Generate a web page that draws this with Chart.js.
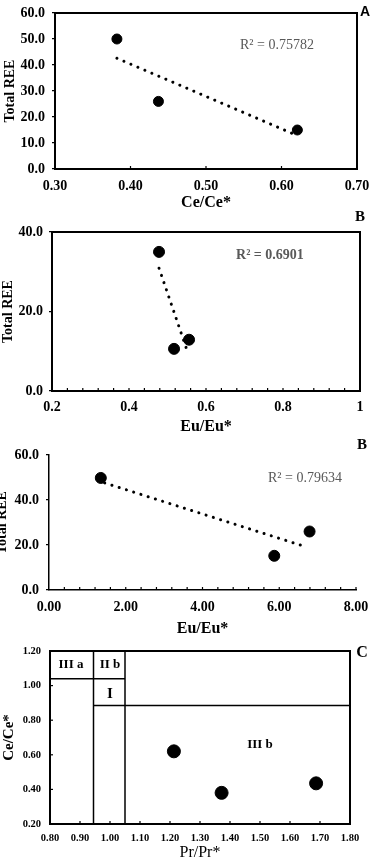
<!DOCTYPE html>
<html>
<head>
<meta charset="utf-8">
<script src="https://cdn.jsdelivr.net/npm/chart.js@4.4.1/dist/chart.umd.min.js"></script>
<style>
    body { margin: 0; background: #fff; width: 377px; height: 868px; overflow: hidden; position: relative; }
    canvas { position: absolute; left: 0; }
</style>
</head>
<body>
<canvas id="grafico-a" width="377" height="215" style="top:0px"></canvas>
<canvas id="grafico-b1" width="377" height="232" style="top:205px"></canvas>
<canvas id="grafico-b2" width="377" height="208" style="top:430px"></canvas>
<canvas id="grafico-c" width="377" height="238" style="top:630px"></canvas>
<script>
// ---- panel A : Total REE vs Ce/Ce*
const ceCeA = [0.382, 0.437, 0.621];
const totalReeA = [50.0, 26.0, 15.0];
const trendAx = [0.382, 0.614];
const trendAy = [42.6, 13.7];
const ticksAx = [0.30, 0.40, 0.50, 0.60, 0.70];
const ticksAy = [0, 10, 20, 30, 40, 50, 60];

// ---- panel B (upper) : Total REE vs Eu/Eu*
const euEuB1 = [0.478, 0.517, 0.556];
const totalReeB1 = [35.0, 10.6, 12.9];
const trendB1x = [0.478, 0.554];
const trendB1y = [30.9, 9.3];
const ticksB1x = [0.2, 0.4, 0.6, 0.8, 1.0];
const ticksB1y = [0, 20, 40];

// ---- panel B (lower) : Total REE vs Eu/Eu*
const euEuB2 = [1.35, 5.87, 6.79];
const totalReeB2 = [49.8, 15.2, 26.0];
const trendB2x = [1.45, 6.62];
const trendB2y = [47.6, 19.6];
const ticksB2x = [0, 2, 4, 6, 8];
const ticksB2y = [0, 20, 40, 60];

// ---- panel C : Ce/Ce* vs Pr/Pr*
const prPrC = [1.213, 1.372, 1.687];
const ceCeC = [0.62, 0.38, 0.435];
const ticksCx = [0.80, 0.90, 1.00, 1.10, 1.20, 1.30, 1.40, 1.50, 1.60, 1.70, 1.80];
const ticksCy = [0.20, 0.40, 0.60, 0.80, 1.00, 1.20];
// field boundaries: [x1, y1, x2, y2]
const camposLinhas = [
    [0.945, 0.20, 0.945, 1.20],
    [1.05, 0.20, 1.05, 1.20],
    [0.80, 1.04, 1.05, 1.04],
    [0.945, 0.885, 1.80, 0.885]
];
const camposNomes = ['III a', 'II b', 'I', 'III b'];
const camposX = [0.87, 1.0, 1.0, 1.50];
const camposY = [1.12, 1.12, 0.95, 0.66];

const SERIF = "'Liberation Serif', 'Times New Roman', serif";

const pluginDecor = {
    id: 'decor',
    afterDraw(chart, args, o) {
        const { ctx, chartArea: ca, scales: { x, y } } = chart;
        ctx.save();
        ctx.strokeStyle = '#000';
        ctx.lineWidth = 1.2;
        if (o.xStep) {
            const n = Math.round((x.max - x.min) / o.xStep);
            for (let i = 1; i <= n; i++) {
                const px = x.getPixelForValue(x.min + i * o.xStep);
                ctx.beginPath(); ctx.moveTo(px, ca.bottom); ctx.lineTo(px, ca.bottom - 3); ctx.stroke();
            }
        }
        if (o.yStep) {
            const n = Math.round((y.max - y.min) / o.yStep);
            for (let i = 1; i < n; i++) {
                const py = y.getPixelForValue(y.min + i * o.yStep);
                ctx.beginPath(); ctx.moveTo(ca.left, py); ctx.lineTo(ca.left + 3, py); ctx.stroke();
            }
        }
        if (o.box) {
            ctx.lineWidth = 2;
            ctx.strokeRect(ca.left, ca.top, ca.right - ca.left, ca.bottom - ca.top);
        }
        ctx.textAlign = 'center';
        ctx.textBaseline = 'middle';
        (o.textos || []).forEach(t => {
            ctx.font = t.font;
            ctx.fillStyle = t.color || '#000';
            const px = t.dx !== undefined ? ca.right + t.dx : x.getPixelForValue(t.x);
            const py = t.dy !== undefined ? ca.top + t.dy : y.getPixelForValue(t.y);
            ctx.fillText(t.text, px, py);
        });
        ctx.restore();
    }
};

function pontos(xs, ys) { return xs.map((v, i) => ({ x: v, y: ys[i] })); }

function eixoX(cfg) {
    return {
        type: 'linear', min: cfg.min, max: cfg.max,
        afterBuildTicks: s => { s.ticks = cfg.ticks.map(v => ({ value: v })); },
        afterFit: s => { s.height = cfg.height; s.paddingLeft = 0; s.paddingRight = 0; },
        ticks: { callback: cfg.fmt, color: '#000', padding: cfg.pad, maxRotation: 0, autoSkip: false,
                 font: { family: SERIF, size: cfg.size, weight: 'bold' } },
        grid: { display: true, drawOnChartArea: false, drawTicks: false, color: '#000' },
        border: { display: true, color: '#000', width: cfg.bw || 2 },
        title: { display: true, text: cfg.title, color: '#000', padding: { top: 0, bottom: cfg.tpad },
                 font: { family: SERIF, size: cfg.tsize, weight: cfg.tweight || 'bold' } }
    };
}

function eixoY(cfg) {
    return {
        type: 'linear', min: cfg.min, max: cfg.max,
        afterBuildTicks: s => { s.ticks = cfg.ticks.map(v => ({ value: v })); },
        afterFit: s => { s.width = cfg.width; s.paddingTop = 0; s.paddingBottom = 0; },
        ticks: { callback: cfg.fmt, color: '#000', padding: cfg.pad, autoSkip: false,
                 font: { family: SERIF, size: cfg.size, weight: 'bold' } },
        grid: { display: true, drawOnChartArea: false, drawTicks: cfg.outTicks, tickLength: 3, color: '#000', lineWidth: 1.2 },
        border: { display: true, color: '#000', width: cfg.bw || 2 },
        title: { display: true, text: cfg.title, color: '#000', padding: { top: cfg.tpad, bottom: 0 },
                 font: { family: SERIF, size: cfg.tsize, weight: 'bold' } }
    };
}

function opcoesBase(padding, scales, decor) {
    return {
        responsive: false, animation: false, events: [],
        layout: { padding: padding, autoPadding: false },
        plugins: { legend: { display: false }, tooltip: { enabled: false }, decor: decor },
        scales: scales
    };
}

const linhaTendencia = (xs, ys) => ({
    type: 'scatter', data: pontos(xs, ys), showLine: true, pointRadius: 0,
    borderColor: '#000', borderWidth: 3, borderDash: [0.1, 7.5], borderCapStyle: 'round', fill: false
});

// ----- A
new Chart(document.getElementById('grafico-a'), {
    type: 'scatter',
    data: { datasets: [
        linhaTendencia(trendAx, trendAy),
        { data: pontos(ceCeA, totalReeA), pointRadius: 5, backgroundColor: '#000', borderColor: '#000' }
    ] },
    options: opcoesBase({ left: 0, top: 13, right: 20, bottom: 0 }, {
        x: eixoX({ min: 0.3, max: 0.7, ticks: ticksAx, fmt: v => v.toFixed(2), height: 46, pad: 9, size: 14,
                   title: 'Ce/Ce*', tsize: 16, tpad: 3 }),
        y: eixoY({ min: 0, max: 60, ticks: ticksAy, fmt: v => v.toFixed(1), width: 55, pad: 7, size: 14,
                   outTicks: true, title: 'Total REE', tsize: 14, tpad: 1.6 })
    }, { box: true, xStep: 0.1, textos: [
        { text: 'R\u00B2 = 0.75782', x: 0.594, y: 47.7, font: `14px ${SERIF}`, color: '#595959' },
        { text: 'A', dx: 8, dy: -1, font: "bold 14px 'Liberation Sans', Arial, sans-serif" }
    ] }),
    plugins: [pluginDecor]
});

// ----- B (upper)
new Chart(document.getElementById('grafico-b1'), {
    type: 'scatter',
    data: { datasets: [
        linhaTendencia(trendB1x, trendB1y),
        { data: pontos(euEuB1, totalReeB1), pointRadius: 5.5, backgroundColor: '#000', borderColor: '#000' },
        { data: pontos(euEuB1, totalReeB1), pointRadius: 0.8, backgroundColor: '#ddd', borderWidth: 0 }
    ] },
    options: opcoesBase({ left: 0, top: 27, right: 17, bottom: 0 }, {
        x: eixoX({ min: 0.2, max: 1.0, ticks: ticksB1x, fmt: v => (v === 1 ? '1' : v.toFixed(1)), height: 46, pad: 8, size: 14,
                   title: 'Eu/Eu*', tsize: 16, tpad: 0.7 }),
        y: eixoY({ min: 0, max: 40, ticks: ticksB1y, fmt: v => v.toFixed(1), width: 52, pad: 6, size: 14,
                   outTicks: true, title: 'Total REE', tsize: 14, tpad: -0.4 })
    }, { box: true, xStep: 0.04, textos: [
        { text: 'R\u00B2 = 0.6901', x: 0.766, y: 34.0, font: `bold 14px ${SERIF}`, color: '#595959' },
        { text: 'B', dx: 0, dy: -15, font: `bold 15px ${SERIF}` }
    ] }),
    plugins: [pluginDecor]
});

// ----- B (lower)
new Chart(document.getElementById('grafico-b2'), {
    type: 'scatter',
    data: { datasets: [
        linhaTendencia(trendB2x, trendB2y),
        { data: pontos(euEuB2, totalReeB2), pointRadius: 5.5, backgroundColor: '#000', borderColor: '#000' },
        { data: pontos(euEuB2, totalReeB2), pointRadius: 0.8, backgroundColor: '#ddd', borderWidth: 0 }
    ] },
    options: opcoesBase({ left: 0, top: 25, right: 21, bottom: 0 }, {
        x: eixoX({ min: 0, max: 8, ticks: ticksB2x, fmt: v => v.toFixed(2), height: 48, pad: 9, size: 14,
                   title: 'Eu/Eu*', tsize: 16, tpad: 0, bw: 1.5 }),
        y: eixoY({ min: 0, max: 60, ticks: ticksB2y, fmt: v => v.toFixed(1), width: 49, pad: 7, size: 14,
                   outTicks: true, title: 'Total REE', tsize: 14, tpad: -6.4, bw: 1.5 })
    }, { box: false, xStep: 0.4, textos: [
        { text: 'R\u00B2 = 0.79634', x: 6.67, y: 49.8, font: `14px ${SERIF}`, color: '#595959' },
        { text: 'B', dx: 6, dy: -10, font: `bold 15px ${SERIF}` }
    ] }),
    plugins: [pluginDecor]
});

// ----- C
new Chart(document.getElementById('grafico-c'), {
    type: 'scatter',
    data: { datasets: [
        ...camposLinhas.map(l => ({
            data: [{ x: l[0], y: l[1] }, { x: l[2], y: l[3] }], showLine: true, pointRadius: 0,
            borderColor: '#000', borderWidth: 1.5, fill: false
        })),
        { data: pontos(prPrC, ceCeC), pointRadius: 6.5, backgroundColor: '#000', borderColor: '#000' }
    ] },
    options: opcoesBase({ left: 0, top: 21, right: 27, bottom: 0 }, {
        x: eixoX({ min: 0.8, max: 1.8, ticks: ticksCx, fmt: v => v.toFixed(2), height: 44, pad: 8, size: 10.5,
                   title: 'Pr/Pr*', tsize: 16, tpad: 6, tweight: 'normal' }),
        y: eixoY({ min: 0.2, max: 1.2, ticks: ticksCy, fmt: v => v.toFixed(2), width: 50, pad: 9, size: 10.5,
                   outTicks: false, title: 'Ce/Ce*', tsize: 15, tpad: 0.5 })
    }, { box: true, xStep: 0.1, yStep: 0.2, textos: [
        ...camposNomes.map((n, i) => ({ text: n, x: camposX[i], y: camposY[i],
            font: `bold ${n === 'I' ? 15 : 13}px ${SERIF}` })),
        { text: 'C', dx: 12, dy: 2, font: `bold 16px ${SERIF}` }
    ] }),
    plugins: [pluginDecor]
});
</script>
</body>
</html>
